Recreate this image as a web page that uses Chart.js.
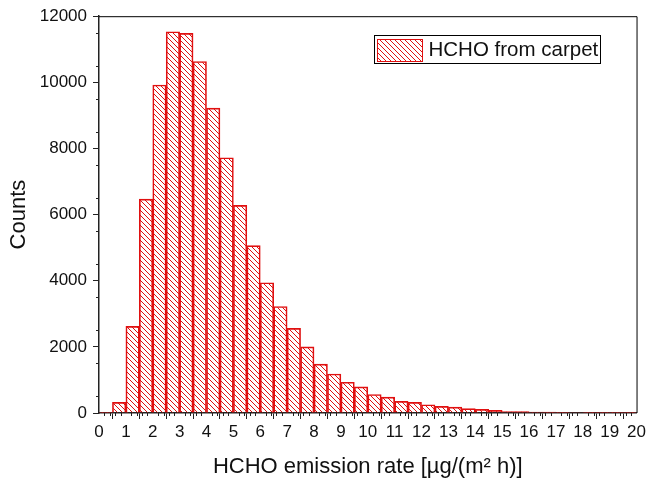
<!DOCTYPE html>
<html>
<head>
<meta charset="utf-8">
<script src="https://cdn.jsdelivr.net/npm/chart.js@4/dist/chart.umd.min.js"></script>
<style>
  html, body { margin: 0; padding: 0; background: #fff; }
  #wrap { width: 649px; height: 484px; }
</style>
</head>
<body>
<div id="wrap"><canvas id="histChart"></canvas></div>
<script>
// bin centres (width 0.5) and counts
const binStarts = [0, 0.5, 1, 1.5, 2, 2.5, 3, 3.5, 4, 4.5, 5, 5.5, 6, 6.5, 7, 7.5, 8, 8.5, 9, 9.5,
                   10, 10.5, 11, 11.5, 12, 12.5, 13, 13.5, 14, 14.5, 15, 15.5, 16, 16.5, 17, 17.5, 18, 18.5, 19, 19.5];
const counts = [10, 320, 2620, 6470, 9920, 11530, 11480, 10630, 9220, 7720, 6280, 5060, 3940, 3220, 2560, 2000, 1480, 1180, 930, 790,
                560, 480, 350, 320, 250, 200, 180, 130, 110, 80, 45, 40, 30, 25, 20, 15, 12, 10, 8, 6];
const seriesLabel = "HCHO from carpet";
const xTitle = "HCHO emission rate [µg/(m² h)]";
const yTitle = "Counts";

const RED = "#e01010";
const FONT = "'Liberation Sans', Arial, sans-serif";

// diagonal hatch "\\\"
function makeHatch() {
  const s = 5;
  const c = document.createElement("canvas");
  c.width = s; c.height = s;
  const g = c.getContext("2d");
  g.strokeStyle = RED;
  g.lineWidth = 1;
  g.beginPath();
  g.moveTo(-1, -1); g.lineTo(s + 1, s + 1);
  g.moveTo(-1, s - 1); g.lineTo(1, s + 1);
  g.moveTo(s - 1, -1); g.lineTo(s + 1, 1);
  g.stroke();
  return c;
}

const canvas = document.getElementById("histChart");
const hatch = canvas.getContext("2d").createPattern(makeHatch(), "repeat");

// minor ticks, plot frame and legend box
const extras = {
  id: "extras",
  afterDraw(chart) {
    const { ctx, chartArea: a, scales: { x, y } } = chart;
    ctx.save();
    ctx.strokeStyle = "#222";
    ctx.lineWidth = 1;
    ctx.beginPath();
    for (let v = 0; v <= 20.001; v += 0.2) {
      if (Math.abs(v - Math.round(v)) < 0.01) continue;
      const px = Math.round(x.getPixelForValue(v)) + 0.5;
      ctx.moveTo(px, a.bottom); ctx.lineTo(px, a.bottom + 3);
    }
    for (let v = 500; v < 12000; v += 1000) {
      const py = Math.round(y.getPixelForValue(v)) + 0.5;
      ctx.moveTo(a.left, py); ctx.lineTo(a.left - 3, py);
    }
    ctx.stroke();

    // top and right frame
    ctx.strokeStyle = "#000";
    ctx.beginPath();
    ctx.moveTo(a.left, a.top + 0.5); ctx.lineTo(a.right + 0.5, a.top + 0.5);
    ctx.lineTo(a.right + 0.5, a.bottom);
    ctx.stroke();

    // legend
    const lx = 374.5, ly = 35.5, lw = 226, lh = 28;
    ctx.strokeStyle = "#000";
    ctx.strokeRect(lx, ly, lw, lh);
    ctx.fillStyle = hatch;
    ctx.fillRect(lx + 3, ly + 4, 45, 22);
    ctx.strokeStyle = RED;
    ctx.strokeRect(lx + 3, ly + 4, 45, 22);
    ctx.fillStyle = "#111";
    ctx.font = "20.5px " + FONT;
    ctx.textBaseline = "middle";
    ctx.fillText(chart.data.datasets[0].label, lx + 54, ly + lh / 2 + 1);
    ctx.restore();
  }
};

new Chart(canvas.getContext("2d"), {
  type: "bar",
  data: {
    datasets: [{
      label: seriesLabel,
      data: binStarts.map((s, i) => ({ x: s + 0.25, y: counts[i] })),
      backgroundColor: hatch,
      borderColor: RED,
      borderWidth: 1,
      borderSkipped: "bottom",
      barPercentage: 1,
      categoryPercentage: 1
    }]
  },
  options: {
    responsive: true,
    maintainAspectRatio: false,
    animation: false,
    layout: { padding: { top: 13, right: 11, left: 0, bottom: 0 } },
    plugins: { legend: { display: false }, tooltip: { enabled: false } },
    scales: {
      x: {
        type: "linear",
        min: 0, max: 20,
        offset: false,
        afterFit(s) { s.height = 71; },
        ticks: { stepSize: 1, color: "#111", font: { family: FONT, size: 17 }, padding: 3, maxRotation: 0, autoSkip: false },
        grid: { display: true, drawOnChartArea: false, tickLength: 6, color: "#222" },
        border: { display: true, color: "#222", width: 1.5 },
        title: { display: true, text: xTitle, color: "#111", font: { family: FONT, size: 22 }, padding: { top: 8, bottom: 4 } }
      },
      y: {
        min: 0, max: 12000,
        afterFit(s) { s.width = 99; },
        ticks: { stepSize: 2000, color: "#111", font: { family: FONT, size: 17 }, padding: 6,
                 callback: v => String(v) },
        grid: { display: true, drawOnChartArea: false, tickLength: 6, color: "#222" },
        border: { display: true, color: "#222", width: 1.5 },
        title: { display: true, text: yTitle, color: "#111", font: { family: FONT, size: 22 }, padding: { top: 6, bottom: 0 } }
      }
    }
  },
  plugins: [extras]
});
</script>
</body>
</html>
